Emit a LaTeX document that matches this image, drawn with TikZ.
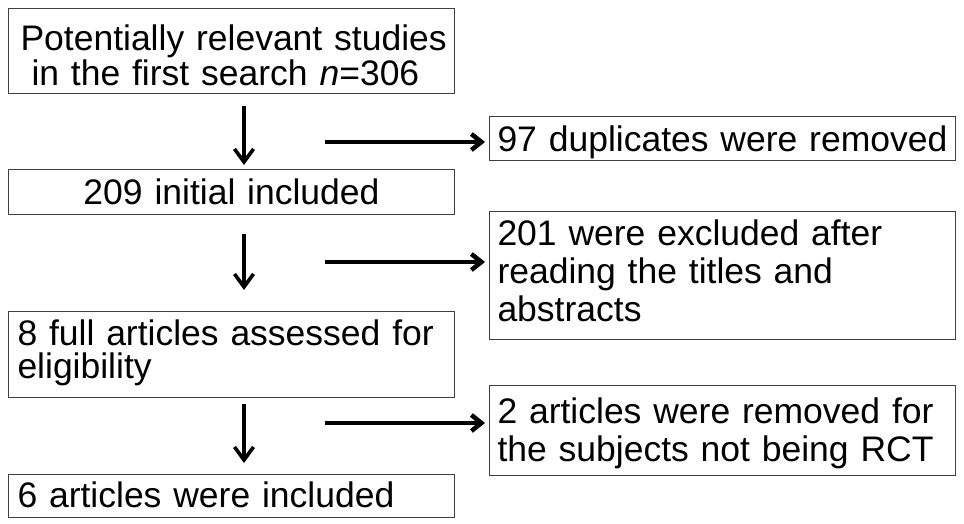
\documentclass[tikz,border=0pt]{standalone}
\usepackage{fontspec}
\setmainfont{Liberation Sans}
\usetikzlibrary{arrows.meta}
\begin{document}
\begin{tikzpicture}[x=1pt,y=-1pt,
  box/.style={draw=black!75, line width=1pt, anchor=north west, inner ysep=0pt,
    minimum height=0pt, font=\fontsize{35.5}{36}\selectfont},
  lbox/.style={box, text width=428pt, inner xsep=9pt, align=left},
  rbox/.style={box, text width=450pt, inner xsep=8pt, align=left},
  varrow/.style={line width=3.6pt, -{Straight Barb[length=13pt,width=19pt]}},
  harrow/.style={line width=4.5pt, -{Straight Barb[length=10pt,width=16pt]}}]
\useasboundingbox (0,0) rectangle (964,524);

\node[box, text width=422pt, inner xsep=12pt, align=left, text height=42pt, text depth=43pt,
  font=\fontsize{35.5}{35}\selectfont] (b1) at (8,8)
  {\mbox{Potentially relevant studies}\\\hspace*{11pt}\mbox{in the first search \textit{n}=306}};
\node[box, text width=430pt, inner xsep=8pt, align=center, text height=35pt, text depth=10pt] (b2) at (8,169)
  {209 initial included};
\node[lbox, text height=34pt, text depth=52pt, font=\fontsize{35.5}{33}\selectfont] (b3) at (8,311)
  {\mbox{8 full articles assessed for}\\eligibility};
\node[lbox, text height=33pt, text depth=10pt] (b4) at (8,474)
  {6 articles were included};

\node[rbox, text height=35pt, text depth=9pt] (r1) at (489,116)
  {\mbox{97 duplicates were removed}};
\node[rbox, text height=34pt, text depth=94pt, font=\fontsize{35.5}{38}\selectfont] (r2) at (489,211)
  {\mbox{201 were excluded after}\\reading the titles and\\abstracts};
\node[rbox, text height=38pt, text depth=52pt, font=\fontsize{35.5}{38}\selectfont] (r3) at (489,385)
  {\mbox{2 articles were removed for}\\\mbox{the subjects not being RCT}};

\coordinate (ax) at (244,0);
\draw[varrow, shorten <=12pt, shorten >=4pt] (b1.south -| ax) -- (b2.north -| ax);
\draw[varrow, shorten <=19pt, shorten >=21pt] (b2.south -| ax) -- (b3.north -| ax);
\draw[varrow, shorten <=6pt, shorten >=11pt] (b3.south -| ax) -- (b4.north -| ax);

\coordinate (h1) at (325,142);
\coordinate (h2) at (325,262);
\coordinate (h3) at (325,423);
\draw[harrow, shorten >=4pt] (h1) -- (r1.west |- h1);
\draw[harrow, shorten >=4pt] (h2) -- (r2.west |- h2);
\draw[harrow, shorten >=4pt] (h3) -- (r3.west |- h3);
\end{tikzpicture}
\end{document}
